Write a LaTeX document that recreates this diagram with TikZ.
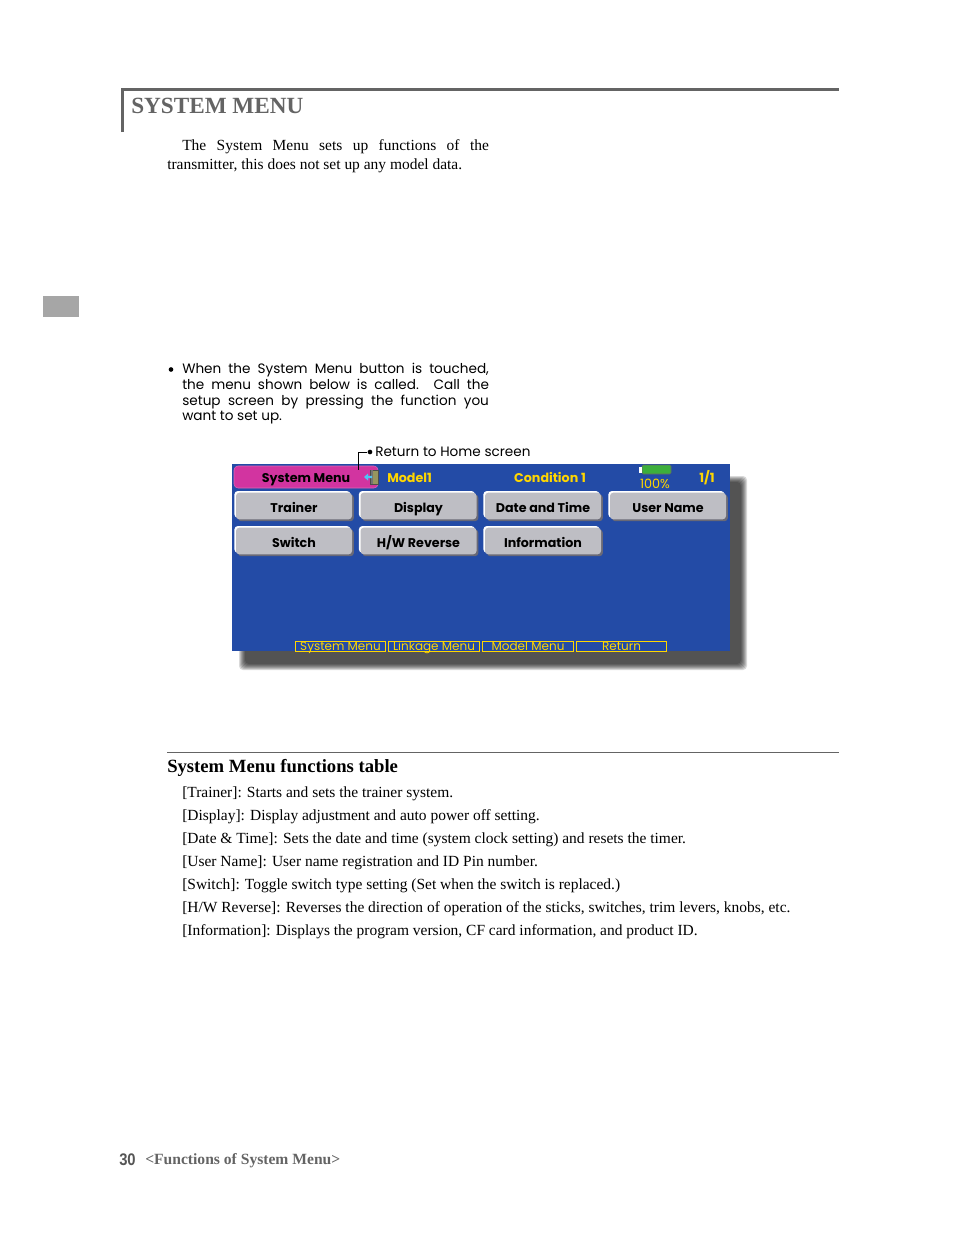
\documentclass[tikz,border=0pt]{standalone}
\usepackage{fontspec}
\setmainfont{Liberation Serif}
\newfontfamily\gothic{Poppins}
\newfontfamily\numfont{Liberation Sans}
\usetikzlibrary{shapes}
\definecolor{lcdblue}{RGB}{35,75,166}
\definecolor{lcdyellow}{RGB}{255,214,0}
\definecolor{lcdpink}{RGB}{210,52,160}
\definecolor{btngray}{RGB}{190,190,196}
\definecolor{btnedge}{RGB}{105,105,118}
\definecolor{titlegray}{RGB}{100,100,100}
\definecolor{sidegray}{RGB}{166,166,166}
\definecolor{battgreen}{RGB}{60,175,60}
\definecolor{doorolive}{RGB}{150,150,95}
\newcommand\spreadline[1]{\makebox[230pt][s]{#1}}

\begin{document}
\begin{tikzpicture}[x=0.75pt,y=-0.75pt,
    serif/.style={anchor=base west,inner sep=0pt,font=\fontsize{11.6}{14}\selectfont},
    gothictxt/.style={anchor=base west,inner sep=0pt,font=\gothic\fontsize{10.2}{12}\selectfont},
    lcdtxt/.style={anchor=base,inner sep=0pt,text=lcdyellow,font=\gothic\bfseries\fontsize{9.5}{11}\selectfont},
    menubtn/.style={fill=btngray,rounded corners=2.5pt,minimum width=87pt,minimum height=20pt,
        inner sep=0pt,text height=10pt,text depth=0.5pt,font=\gothic\bfseries\fontsize{9.5}{11}\selectfont,
        preaction={fill=white,transform canvas={shift={(-1.2pt,1.2pt)}}},
        preaction={fill=btnedge,transform canvas={shift={(1.4pt,-1.4pt)}}}},
    tabbox/.style={draw=lcdyellow,line width=0.6pt,minimum width=68pt,minimum height=7.5pt,inner sep=0pt,
        text height=7pt,text depth=0pt,text=lcdyellow,font=\gothic\fontsize{9}{9}\selectfont},
    dot/.style={circle,fill=black,inner sep=0pt,minimum size=3.5pt}]
\useasboundingbox (0,0) rectangle (954,1235);

\draw[titlegray,line width=2.25pt] (122.5,132) |- (839,89.5);
\node[anchor=base west,inner sep=0pt,text=titlegray,font=\bfseries\fontsize{17.4}{20}\selectfont] (title) at (131,113) {SYSTEM MENU};
\node[serif] (intro1) at (182,150) {\spreadline{The System Menu sets up functions of the}};
\node[serif] (intro2) at (167,169) {transmitter, this does not set up any model data.};

\fill[sidegray] (43,296) rectangle (79,317);

\node[dot] (bullet) at (171,369.5) {};
\node[gothictxt] (note1) at (182,373) {\spreadline{When the System Menu button is touched,}};
\node[gothictxt] (note2) at (182,389) {\spreadline{the menu shown below is called. Call the}};
\node[gothictxt] (note3) at (182,405) {\spreadline{setup screen by pressing the function you}};
\node[gothictxt] (note4) at (182,420.5) {want to set up.};

\foreach \s in {0,...,6}
    \fill[black,opacity=0.15,rounded corners=3pt] ({239+\s},{476+\s}) rectangle ({747-\s},{670-\s});
\node[fill=lcdblue,minimum width=373.5pt,minimum height=140.25pt,inner sep=0pt] (screen) at (481,557.5) {};

\node[fill=lcdpink,draw=lcdpink!75!white,rounded corners=3pt,minimum width=108pt,minimum height=16.5pt,inner sep=0pt] (sysbtn) at (306,477) {};
\node[lcdtxt,text=black] (syslabel) at (306,482) {System Menu};
\filldraw[fill=doorolive,draw=black!70,line width=0.4pt] (370.5,470) rectangle (378,484);
\fill[black!55] (370.5,470) rectangle (372.5,484);
\fill[cyan!70!white] (364,477) -- (368,473.5) -- (368,475.8) -- (372,475.8) -- (372,478.2) -- (368,478.2) -- (368,480.5) -- cycle;
\node[lcdtxt,anchor=base west] (model) at (387,482) {Model1};
\node[lcdtxt] (cond) at (550,482) {Condition 1};
\filldraw[fill=battgreen,draw=black!60,line width=0.4pt,rounded corners=1pt] (642,465) rectangle (671,474);
\fill[white] (638.5,466.5) rectangle (642,472.5);
\node[lcdtxt,font=\gothic\fontsize{9.6}{10}\selectfont] (batt) at (655,488) {100\%};
\node[lcdtxt] (page) at (707,482) {1/1};

\node[menubtn] (trainer) at (294,506) {Trainer};
\node[menubtn] (display) at (418.5,506) {Display};
\node[menubtn] (datetime) at (543,506) {Date and Time};
\node[menubtn] (username) at (668,506) {User Name};
\node[menubtn] (switch) at (294,541) {Switch};
\node[menubtn] (hwrev) at (418.5,541) {H/W Reverse};
\node[menubtn] (info) at (543,541) {Information};

\node[tabbox] (tabsys) at (340.5,646) {System Menu};
\node[tabbox] (tablink) at (434,646) {Linkage Menu};
\node[tabbox] (tabmodel) at (528,646) {Model Menu};
\node[tabbox] (tabret) at (621.5,646) {Return};

\node[dot] (homedot) at (370,452) {};
\node[gothictxt] (hometext) at (375,456) {Return to Home screen};
\coordinate (homept) at (358,470);
\draw[line width=0.6pt] (homedot) -| (homept);

\draw[titlegray,line width=0.75pt] (167,752.5) -- (839,752.5);
\node[serif,font=\bfseries\fontsize{14}{16}\selectfont] (tablehead) at (167,772) {System Menu functions table};
\foreach \txt [count=\i] in {{[Trainer]: Starts and sets the trainer system.},
    {[Display]: Display adjustment and auto power off setting.},
    {[Date \& Time]: Sets the date and time (system clock setting) and resets the timer.},
    {[User Name]: User name registration and ID Pin number.},
    {[Switch]: Toggle switch type setting (Set when the switch is replaced.)},
    {[H/W Reverse]: Reverses the direction of operation of the sticks, switches, trim levers, knobs, etc.},
    {[Information]: Displays the program version, CF card information, and product ID.}}
    \node[serif] (func\i) at (182,{774+23*\i}) {\txt};

\node[anchor=base west,inner sep=0pt,text=titlegray!85!black,font=\numfont\bfseries\fontsize{12.6}{14}\selectfont] (pagenum) at (119,1165) {\scalebox{0.88}[1]{30}};
\node[anchor=base west,inner sep=0pt,text=titlegray,font=\bfseries\fontsize{11.7}{14}\selectfont] (footer) at (145,1164) {<Functions of System Menu>};
\end{tikzpicture}
\end{document}
